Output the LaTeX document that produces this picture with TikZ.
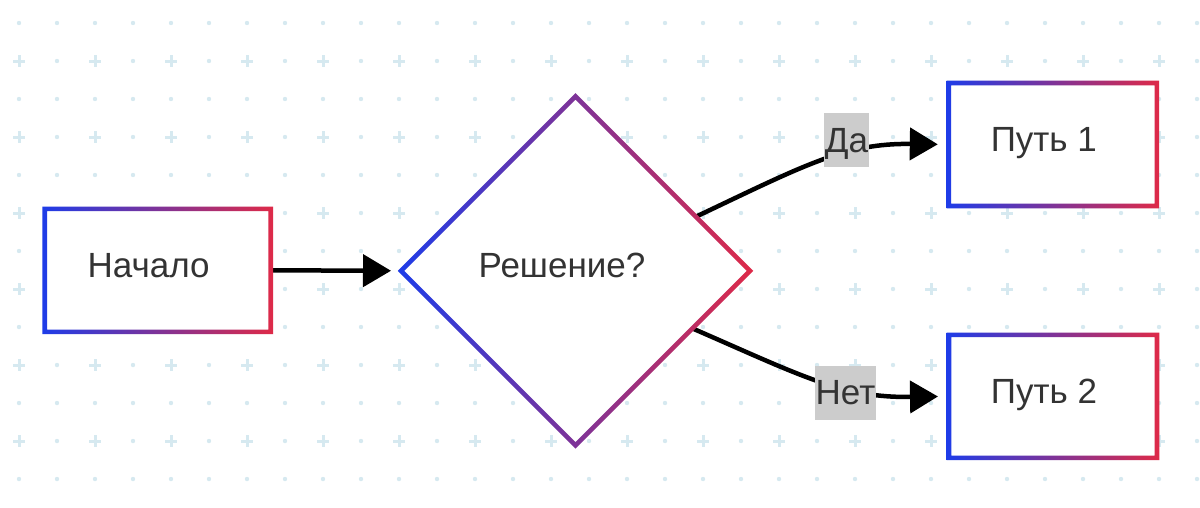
\documentclass[tikz,border=0pt]{standalone}
\usepackage{fontspec}
\setmainfont{Liberation Sans}
\usepackage{tikz}
\usetikzlibrary{arrows.meta, shapes.geometric, calc}
\definecolor{gridc}{RGB}{214,233,240}
\definecolor{gblue}{RGB}{30,60,232}
\definecolor{gred}{RGB}{222,42,72}
\definecolor{txt}{RGB}{51,51,51}
\definecolor{lbl}{RGB}{204,204,204}
\newcommand{\bigfont}{\fontsize{35}{42}\selectfont}
% gradient outline of a box / a diamond, drawn round a named node
\newcommand{\boxring}[1]{\shade[ring] ([shift={(-2.3pt,-2.3pt)}]#1.south west) rectangle ([shift={(2.3pt,2.3pt)}]#1.north east)
  ([shift={(2.3pt,2.3pt)}]#1.south west) rectangle ([shift={(-2.3pt,-2.3pt)}]#1.north east);}
\newcommand{\diaring}[1]{\shade[ring] ([yshift=3.25pt]#1.north) -- ([xshift=3.25pt]#1.east) -- ([yshift=-3.25pt]#1.south) -- ([xshift=-3.25pt]#1.west) -- cycle
  ([yshift=-3.25pt]#1.north) -- ([xshift=-3.25pt]#1.east) -- ([yshift=3.25pt]#1.south) -- ([xshift=3.25pt]#1.west) -- cycle;}
\tikzset{
  box/.style={rectangle, fill=white, inner sep=0pt, outer sep=0pt, font=\bigfont, text=txt, text height=25pt, text depth=11pt},
  dia/.style={diamond, fill=white, inner sep=0pt, outer sep=0pt, minimum width=349pt, minimum height=349pt, font=\bigfont, text=txt, text height=25pt, text depth=11pt},
  lab/.style={fill=lbl, inner sep=0pt, inner xsep=1pt, font=\bigfont, text=txt, text height=39pt, text depth=15pt},
  flow/.style={line width=4.5pt, -{Triangle[length=28pt,width=32pt]}},
  ring/.style={left color=gblue, right color=gred, even odd rule},
}

\begin{document}
\begin{tikzpicture}[x=1pt,y=-1pt]
\useasboundingbox[fill=white] (0,0) rectangle (1200,507);

% background grid
\foreach \y in {23,99,...,479}
  \foreach \x in {19,57,...,1197}
    \fill[gridc] (\x,\y) circle (2.2pt);
\foreach \y in {61,137,...,441} {
  \foreach \x in {57,133,...,1197}
    \fill[gridc] (\x,\y) circle (2.2pt);
  \foreach \x in {19,95,...,1159}
    \draw[gridc, line width=3pt] (\x-6,\y) -- (\x+6,\y) (\x,\y-6) -- (\x,\y+6);
}

\node[box, minimum width=226pt, minimum height=123pt](n0) at (157.7,270.3) {Начало\hspace*{18pt}};
\node[dia](d0) at (575.5,270.8) {Решение?\hspace*{27pt}};
\node[box, minimum width=208pt, minimum height=123pt](p1) at (1052.8,144.5) {Путь 1\hspace*{18pt}};
\node[box, minimum width=208pt, minimum height=123pt](p2) at (1053,396.3) {Путь 2\hspace*{18pt}};

\draw[flow, shorten <=2pt, shorten >=10pt] (n0.east) -- (d0.west);
\draw[flow, shorten >=11pt] ($(d0.north)!0.69!(d0.east)$) .. controls (805,165) and (845,143) .. (p1.west);
\draw[flow, shorten >=11pt] ($(d0.east)!0.33!(d0.south)$) .. controls (802,376) and (842,398) .. (p2.west);

\boxring{n0}
\diaring{d0}
\boxring{p1}
\boxring{p2}

\node[lab](l1) at (846.5,140) {Да};
\node[lab](l2) at (845.5,392.5) {Нет};

\end{tikzpicture}
\end{document}
